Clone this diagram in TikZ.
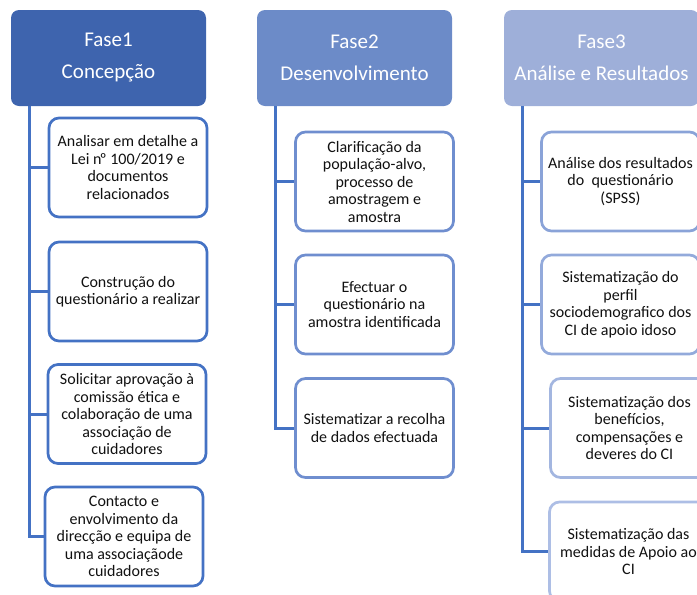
\documentclass[tikz,border=0pt]{standalone}
\usepackage{fontspec}
\setmainfont{Carlito}
\definecolor{hdrA}{HTML}{3E64AE}
\definecolor{hdrB}{HTML}{6C8BC8}
\definecolor{hdrC}{HTML}{9EAFD9}
\definecolor{connC}{HTML}{4472C4}
\definecolor{olA}{HTML}{4472C4}
\definecolor{olB}{HTML}{6F8ECF}
\definecolor{olC1}{HTML}{8AA3D8}
\definecolor{olC2}{HTML}{93AADB}
\definecolor{olC3}{HTML}{A3B6E0}
\definecolor{olC4}{HTML}{ADBEE5}
\definecolor{txt}{HTML}{111111}
\begin{document}
\begin{tikzpicture}[x=1pt,y=-1pt,
  hdr/.style={rounded corners=8pt, minimum width=195pt, minimum height=96pt,
    text=white, font=\fontsize{21}{32}\selectfont, align=center, inner sep=0pt},
  itembox/.style={draw, line width=2.7pt, fill=white, rounded corners=10pt,
    minimum width=158pt, minimum height=99pt, text=txt,
    font=\fontsize{16}{17.5}\selectfont, align=center, inner sep=0pt},
  conn/.style={draw=connC, line width=3pt}]
\useasboundingbox (0,0) rectangle (697,595);
\begin{scope}
\clip (0,0) rectangle (697,595);
% headers
\node[hdr, fill=hdrA] (h1) at (108.5,58) {Fase1\\Concepção};
\node[hdr, fill=hdrB] (h2) at (354.5,58) {Fase2\\Desenvolvimento};
\node[hdr, fill=hdrC] (h3) at (601.5,58) {Fase3\\Análise e Resultados};
% coordinates of the trunk starts
\coordinate (t1) at ([xshift=19pt]h1.south west);
\coordinate (t2) at ([xshift=19pt]h2.south west);
\coordinate (t3) at ([xshift=19pt]h3.south west);
% column 1
\node[itembox, draw=olA] (b11) at (128,167.5) {Analisar em detalhe a\\Lei n\kern-1.5ptº 100/2019 e\\documentos\\relacionados};
\node[itembox, draw=olA] (b12) at (128,291.5) {Construção do\\questionário a realizar};
\node[itembox, draw=olA] (b13) at (127,414) {Solicitar aprovação à\\comissão ética e\\colaboração de uma\\associação de\\cuidadores};
\node[itembox, draw=olA] (b14) at (124,536.5) {Contacto e\\envolvimento da\\direcção e equipa de\\uma associaçãode\\cuidadores};
% column 2
\node[itembox, draw=olB] (b21) at (374.5,181.5) {Clarificação da\\população-alvo,\\processo de\\amostragem e\\amostra};
\node[itembox, draw=olB] (b22) at (374.5,304.5) {Efectuar o\\questionário na\\amostra identificada};
\node[itembox, draw=olB] (b23) at (374.5,428) {Sistematizar a recolha\\de dados efectuada};
% column 3
\node[itembox, draw=olC1] (b31) at (620.5,181.5) {Análise dos resultados\\do\ \ questionário\\(SPSS)};
\node[itembox, draw=olC2] (b32) at (620.5,304.5) {Sistematização do\\perfil\\sociodemografico dos\\CI de apoio idoso};
\node[itembox, draw=olC3] (b33) at (629.5,428) {Sistematização dos\\benefícios,\\compensações e\\deveres do CI};
\node[itembox, draw=olC4] (b34) at (628.5,551.5) {Sistematização das\\medidas de Apoio ao\\CI};
% connectors column 1
\draw[conn] (t1) |- (b14.west);
\draw[conn] (b11.west -| t1) -- (b11.west);
\draw[conn] (b12.west -| t1) -- (b12.west);
\draw[conn] (b13.west -| t1) -- (b13.west);
% connectors column 2
\draw[conn] (t2) |- (b23.west);
\draw[conn] (b21.west -| t2) -- (b21.west);
\draw[conn] (b22.west -| t2) -- (b22.west);
% connectors column 3
\draw[conn] (t3) |- (b34.west);
\draw[conn] (b31.west -| t3) -- (b31.west);
\draw[conn] (b32.west -| t3) -- (b32.west);
\draw[conn] (b33.west -| t3) -- (b33.west);
\end{scope}
\end{tikzpicture}
\end{document}
